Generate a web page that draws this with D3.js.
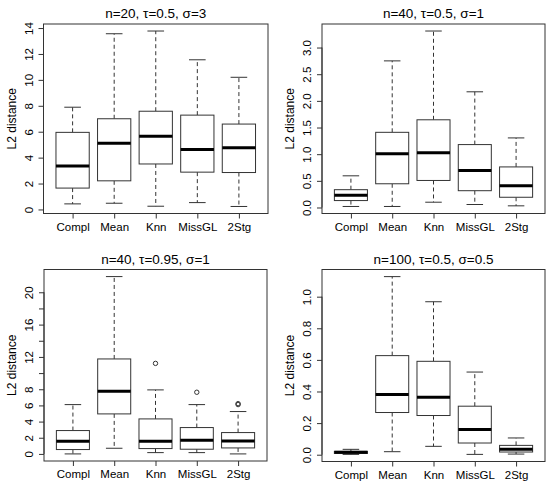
<!DOCTYPE html>
<html>
<head>
<meta charset="utf-8">
<script src="https://cdn.jsdelivr.net/npm/d3@7"></script>
<style>
  html, body { margin: 0; padding: 0; background: #fff; }
  svg { display: block; }
  text { font-family: "Liberation Sans", Arial, Helvetica, sans-serif; fill: #000; }
</style>
</head>
<body>
<svg id="chart" width="549" height="482"></svg>
<script>
// ---- DATA ----
const categories = ["Compl", "Mean", "Knn", "MissGL", "2Stg"];
const titles = ["n=20, τ=0.5, σ=3", "n=40, τ=0.5, σ=1", "n=40, τ=0.95, σ=1", "n=100, τ=0.5, σ=0.5"];
const yAxisTitle = "L2 distance";

// each entry: [lower whisker, Q1, median, Q3, upper whisker]
const stats1 = [
  [0.43, 1.65, 3.36, 5.95, 7.89],
  [0.48, 2.21, 5.11, 7.00, 13.56],
  [0.25, 3.51, 5.65, 7.58, 13.77],
  [0.53, 2.88, 4.63, 7.28, 11.55],
  [0.23, 2.85, 4.76, 6.59, 10.20]
];
const stats2 = [
  [0.019, 0.13, 0.229, 0.334, 0.594],
  [0.019, 0.445, 1.008, 1.41, 2.75],
  [0.099, 0.507, 1.027, 1.645, 3.31],
  [0.056, 0.315, 0.693, 1.18, 2.17],
  [0.031, 0.192, 0.408, 0.761, 1.305]
];
const stats3 = [
  [0.0, 0.54, 1.57, 2.89, 6.10],
  [0.70, 4.95, 7.75, 11.75, 21.94],
  [0.16, 0.66, 1.57, 4.33, 7.92],
  [0.16, 0.58, 1.69, 3.26, 6.10],
  [0.0, 0.74, 1.61, 2.64, 5.24]
];
const stats4 = [
  [0.002, 0.008, 0.015, 0.021, 0.034],
  [0.019, 0.267, 0.381, 0.627, 1.127],
  [0.053, 0.248, 0.364, 0.591, 0.968],
  [0.002, 0.074, 0.159, 0.307, 0.523],
  [0.004, 0.017, 0.034, 0.059, 0.106]
];
const outliers1 = [[], [], [], [], []];
const outliers2 = [[], [], [], [], []];
const outliers3 = [[], [], [11.2], [7.63], [6.1, 6.22]];
const outliers4 = [[], [], [], [], []];

const ticks1 = [0, 2, 4, 6, 8, 10, 12, 14];
const labels1 = [0, 2, 4, 6, 8, 10, 12, 14];
const ticks2 = [0, 0.5, 1, 1.5, 2, 2.5, 3];
const labels2 = ["0.0", "0.5", "1.0", "1.5", "2.0", "2.5", "3.0"];
const ticks3 = [0, 2, 4, 6, 8, 10, 12, 14, 16, 18, 20];
const labels3 = ["0", "2", "4", "6", "8", "", "12", "", "16", "", "20"];
const ticks4 = [0, 0.2, 0.4, 0.6, 0.8, 1.0];
const labels4 = ["0.0", "0.2", "0.4", "0.6", "0.8", "1.0"];

// ---- LAYOUT ----
const panels = [
  { stats: stats1, out: outliers1, ticks: ticks1, labels: labels1, title: titles[0], L: 43.5, R: 268, T: 24, B: 213.5 },
  { stats: stats2, out: outliers2, ticks: ticks2, labels: labels2, title: titles[1], L: 322, R: 545, T: 24, B: 213.5 },
  { stats: stats3, out: outliers3, ticks: ticks3, labels: labels3, title: titles[2], L: 44, R: 267, T: 269.5, B: 461 },
  { stats: stats4, out: outliers4, ticks: ticks4, labels: labels4, title: titles[3], L: 322, R: 545, T: 269.5, B: 461.5 }
];

const svg = d3.select("#chart");
const lineColor = "#333";

panels.forEach(p => {
  const g = svg.append("g");
  const allVals = p.stats.flat().concat(p.out.flat());
  const mn = d3.min(allVals), mx = d3.max(allVals);
  const ext = (mx - mn) * 0.04;
  const y = d3.scaleLinear().domain([mn - ext, mx + ext]).range([p.B, p.T]);
  const x = d3.scaleLinear().domain([0.3, categories.length + 0.7]).range([p.L, p.R]);
  const bw = (x(0.8) - x(0));
  const sw = (x(0.4) - x(0));

  // frame
  g.append("rect").attr("x", p.L).attr("y", p.T).attr("width", p.R - p.L).attr("height", p.B - p.T)
    .attr("fill", "none").attr("stroke", lineColor).attr("stroke-width", 1);

  // y axis ticks
  const yAxis = d3.axisLeft(y).tickValues(p.ticks).tickSize(5).tickFormat((d, i) => p.labels[i]);
  const ya = g.append("g").attr("transform", `translate(${p.L},0)`).call(yAxis);
  ya.select(".domain").attr("stroke", "none");
  ya.append("line").attr("x1", 0).attr("x2", 0).attr("y1", y(p.ticks[0])).attr("y2", y(p.ticks[p.ticks.length - 1]))
    .attr("stroke", lineColor);
  ya.selectAll(".tick line").attr("stroke", lineColor);
  ya.selectAll(".tick text")
    .attr("font-size", 11.5)
    .attr("font-family", "Liberation Sans, Arial, sans-serif")
    .attr("fill", "#000")
    .attr("text-anchor", "middle")
    .attr("x", 0).attr("dy", 0)
    .attr("transform", "translate(-11,0) rotate(-90)");

  // x axis
  const xAxis = d3.axisBottom(x).tickValues(categories.map((c, i) => i + 1)).tickSize(5)
    .tickFormat((d, i) => categories[i]);
  const xa = g.append("g").attr("transform", `translate(0,${p.B})`).call(xAxis);
  xa.select(".domain").attr("stroke", "none");
  xa.selectAll(".tick line").attr("stroke", lineColor);
  xa.selectAll(".tick text")
    .attr("font-size", 11.5)
    .attr("font-family", "Liberation Sans, Arial, sans-serif")
    .attr("fill", "#000")
    .attr("y", 17).attr("dy", 0);

  // y axis title
  g.append("text").attr("transform", `translate(${p.L - 28},${(p.T + p.B) / 2}) rotate(-90)`)
    .attr("text-anchor", "middle").attr("font-size", 12).text(yAxisTitle);

  // title
  g.append("text").attr("x", (p.L + p.R) / 2).attr("y", p.T - 6)
    .attr("text-anchor", "middle").attr("font-size", 13.5).text(p.title);

  // boxes
  p.stats.forEach((s, i) => {
    const cx = x(i + 1);
    const [lo, q1, med, q3, hi] = s;
    const bg = g.append("g");
    bg.append("line").attr("x1", cx).attr("x2", cx).attr("y1", y(q3)).attr("y2", y(hi))
      .attr("stroke", lineColor).attr("stroke-dasharray", "4,3");
    bg.append("line").attr("x1", cx).attr("x2", cx).attr("y1", y(q1)).attr("y2", y(lo))
      .attr("stroke", lineColor).attr("stroke-dasharray", "4,3");
    bg.append("line").attr("x1", cx - sw / 2).attr("x2", cx + sw / 2).attr("y1", y(hi)).attr("y2", y(hi)).attr("stroke", lineColor);
    bg.append("line").attr("x1", cx - sw / 2).attr("x2", cx + sw / 2).attr("y1", y(lo)).attr("y2", y(lo)).attr("stroke", lineColor);
    bg.append("rect").attr("x", cx - bw / 2).attr("y", y(q3)).attr("width", bw).attr("height", y(q1) - y(q3))
      .attr("fill", "#fff").attr("stroke", lineColor);
    bg.append("line").attr("x1", cx - bw / 2).attr("x2", cx + bw / 2).attr("y1", y(med)).attr("y2", y(med))
      .attr("stroke", "#000").attr("stroke-width", 3);
    p.out[i].forEach(v => {
      bg.append("circle").attr("cx", cx).attr("cy", y(v)).attr("r", 2.2)
        .attr("fill", "none").attr("stroke", lineColor);
    });
  });
});
</script>
</body>
</html>
